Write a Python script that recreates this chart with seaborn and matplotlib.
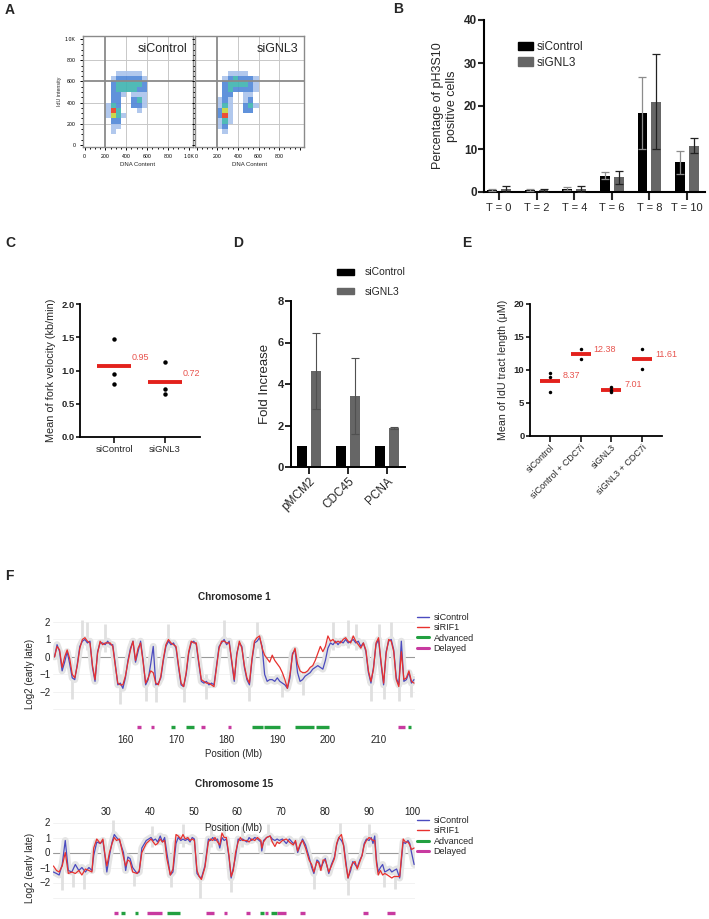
import numpy as np
import pandas as pd
import matplotlib
matplotlib.use("Agg")
import matplotlib.pyplot as plt
import seaborn as sns
from matplotlib.colors import ListedColormap, BoundaryNorm
from matplotlib.patches import Patch
from matplotlib.lines import Line2D

sns.set_theme(style="white")
plt.rcParams["font.family"] = ["Liberation Sans", "DejaVu Sans"]

# ------------------------------------------------------------------ data
# A: flow cytometry density (levels 0-5) on 50-unit bins
flow_x_edges = [150, 200, 250, 300, 350, 400, 450, 500, 550, 600, 650]
flow_y_edges = [100, 150, 200, 250, 300, 350, 400, 450, 500, 550, 600, 650, 700]
flow_sicontrol = [
    [0, 0, 1, 0, 0, 0, 0, 0, 0, 0],
    [0, 0, 1, 1, 0, 0, 0, 0, 0, 0],
    [0, 0, 2, 2, 0, 0, 0, 0, 0, 0],
    [0, 1, 4, 3, 1, 0, 0, 0, 0, 0],
    [0, 1, 5, 3, 0, 0, 0, 1, 0, 0],
    [0, 1, 3, 2, 0, 0, 2, 2, 1, 0],
    [0, 0, 2, 2, 0, 0, 2, 3, 1, 0],
    [0, 0, 2, 2, 1, 0, 1, 1, 1, 0],
    [0, 0, 2, 3, 3, 3, 3, 2, 2, 0],
    [0, 0, 2, 3, 3, 3, 3, 3, 2, 0],
    [0, 0, 1, 2, 2, 2, 2, 2, 1, 0],
    [0, 0, 0, 1, 1, 1, 1, 1, 0, 0],
]
flow_signl3 = [
    [0, 0, 1, 0, 0, 0, 0, 0, 0, 0],
    [0, 1, 2, 0, 0, 0, 0, 0, 0, 0],
    [0, 1, 3, 1, 0, 0, 0, 0, 0, 0],
    [0, 2, 5, 1, 0, 0, 0, 0, 0, 0],
    [0, 2, 4, 1, 0, 0, 2, 2, 0, 0],
    [0, 1, 3, 1, 0, 0, 2, 3, 1, 0],
    [0, 1, 2, 1, 0, 0, 1, 2, 0, 0],
    [0, 0, 2, 2, 0, 0, 1, 1, 0, 0],
    [0, 0, 2, 3, 2, 2, 2, 2, 1, 0],
    [0, 0, 2, 3, 3, 3, 3, 2, 1, 0],
    [0, 0, 1, 2, 3, 2, 2, 2, 1, 0],
    [0, 0, 0, 1, 1, 1, 1, 0, 0, 0],
]

# B
b_times = ["T = 0", "T = 2", "T = 4", "T = 6", "T = 8", "T = 10"]
b_ctrl = [0.5, 0.4, 0.8, 3.8, 18.4, 6.9]
b_ctrl_err = [0.3, 0.2, 0.4, 0.8, 8.4, 2.7]
b_gnl3 = [0.7, 0.4, 0.7, 3.4, 21.0, 10.8]
b_gnl3_err = [0.6, 0.3, 0.6, 1.6, 11.0, 1.8]

# C
c_groups = ["siControl", "siGNL3"]
c_ctrl = [1.47, 0.95, 0.80]
c_gnl3 = [1.13, 0.72, 0.65]
c_means = [1.07, 0.83]
c_labels = ["0.95", "0.72"]

# D
d_targets = ["pMCM2", "CDC45", "PCNA"]
d_ctrl = [1.0, 1.0, 1.0]
d_gnl3 = [4.62, 3.42, 1.88]
d_gnl3_err = [1.83, 1.82, 0.07]

# E
e_groups = ["siControl", "siControl + CDC7i", "siGNL3", "siGNL3 + CDC7i"]
e_ctrl = [9.6, 8.9, 6.6]
e_ctrl_cdc7i = [13.15, 11.61]
e_gnl3 = [7.35, 6.98, 6.70]
e_gnl3_cdc7i = [13.12, 10.10]
e_means = [8.37, 12.38, 7.01, 11.61]

# F: chromosome 1 (0.5 Mb grid from 146 Mb)
chr1_start, chr1_step = 146.0, 0.5
chr1_ctrl = [
    0.0, 0.7, 0.3, -0.8, -0.3, 0.3, -0.4, -1.2, -1.3, -0.4,
    0.6, 0.9, 1.0, 0.8, 0.9, -0.6, -1.4, 0.3, 0.8, 0.8,
    0.7, 0.9, 0.7, 0.7, -0.4, -1.6, -1.5, -1.8, -1.2, -0.2,
    0.5, 0.9, -0.3, 0.3, 0.9, -0.2, -1.6, -1.3, -0.4, 0.6,
    -1.6, -1.5, -1.2, -0.2, 0.6, 0.9, 0.7, 0.8, 0.5, -0.6,
    -1.6, -1.7, -1.0, 0.2, 0.8, 0.9, 0.7, -0.4, -1.4, -1.5,
    -1.4, -1.6, -1.5, -1.6, -0.5, 0.6, 0.8, 1.0, 0.7, 0.9,
    -0.3, -1.4, 0.2, 0.8, 0.6, -0.6, -1.3, -1.6, -0.2, 0.8,
    0.9, 1.1, 0.6, -1.0, -1.4, -1.3, -1.3, -1.4, -1.2, -1.4,
    -1.5, -1.6, -1.8, -1.2, 0.2, 0.4, -0.9, -1.4, -1.3, -1.1,
    -1.0, -0.9, -0.7, -0.6, -0.5, -0.6, -0.7, -0.2, 0.5, 0.8,
    0.7, 0.9, 0.7, 0.9, 0.8, 1.0, 0.8, 0.9, 1.0, 0.8,
    0.9, 0.6, 0.8, 0.3, -0.9, -1.5, -0.6, 0.7, 1.0, -0.4,
    -1.6, 0.3, 0.9, 1.0, 0.4, -1.2, -1.6, 0.9, -1.4, -1.3,
    -0.9, -1.5, -1.3]
chr1_rif1 = [
    0.0, 0.6, 0.4, -0.6, 0.0, 0.4, -0.1, -1.0, -1.2, -0.5,
    0.5, 1.0, 1.1, 0.9, 0.8, -0.5, -1.3, 0.2, 0.9, 0.7,
    0.8, 0.8, 0.8, 0.6, -0.5, -1.5, -1.6, -1.6, -1.1, -0.3,
    0.4, 0.9, -0.2, 0.5, 0.8, -0.3, -1.5, -1.2, -0.8, -0.9,
    -1.5, -1.6, -1.1, -0.1, 0.7, 1.0, 0.8, 0.7, 0.6, -0.5,
    -1.5, -1.7, -0.9, 0.3, 0.9, 0.8, 0.8, -0.3, -1.3, -1.4,
    -1.5, -1.5, -1.6, -1.7, -0.6, 0.5, 0.9, 0.9, 0.8, 0.8,
    -0.2, -1.3, 0.1, 0.9, 0.5, -0.5, -1.2, -1.5, -0.1, 0.9,
    1.1, 1.2, 0.5, 0.1, -0.1, -0.3, 0.1, -0.2, -0.4, -0.6,
    -0.9, -1.3, -1.8, -1.0, 0.1, 0.5, -0.4, -0.8, -0.9, -0.9,
    -0.8, -0.6, -0.5, -0.2, 0.2, 0.6, 0.3, 0.6, 1.2, 0.9,
    1.0, 0.8, 0.9, 0.8, 1.0, 1.1, 0.9, 0.8, 1.2, 0.9,
    0.7, 0.5, 0.8, 0.4, -0.8, -1.4, -0.7, 0.8, 1.1, -0.3,
    -1.5, 0.2, 1.0, 0.9, 0.3, -1.3, -1.7, 0.3, -1.3, -1.2,
    -0.8, -1.4, -1.5]
chr1_spike_pos = [149.5, 151.5, 152.5, 156.0, 159.0, 164.0, 166.0, 168.5, 171.5, 176.0, 179.5, 184.5,
                  186.0, 191.0, 195.0, 201.0, 204.0, 205.5, 208.5, 210.0, 211.0, 212.5, 214.0, 216.5]
chr1_spike_lo = [-2.4, 0.5, 0.4, 0.3, -2.7, -2.5, -2.6, 0.4, -2.6, -2.4, 0.5, -2.5,
                 0.5, -2.3, -2.2, 0.4, 0.5, 0.4, -2.5, 0.5, -2.4, 0.5, -2.5, -2.3]
chr1_spike_hi = [-0.8, 2.1, 2.0, 1.9, -1.0, -1.0, -1.0, 1.9, -1.1, -1.0, 2.1, -1.0,
                 2.0, -1.0, -0.8, 2.0, 2.1, 1.9, -1.0, 1.9, -1.0, 2.0, -1.0, -1.0]
chr1_adv_start = [169.0, 172.0, 185.1, 187.4, 193.5, 197.7, 215.9]
chr1_adv_end = [169.8, 173.6, 187.1, 190.5, 197.3, 200.2, 216.5]
chr1_del_start = [162.3, 165.0, 174.9, 180.3, 213.8]
chr1_del_end = [163.0, 165.7, 175.8, 180.8, 215.2]
chr1_ticks = [160, 170, 180, 190, 200, 210]

# F: chromosome 15
chr15_pos = [
    18.0, 18.7, 19.3, 20.0, 20.7, 21.4, 22.2, 23.0, 23.8, 24.5,
    25.3, 26.1, 26.8, 27.2, 27.9, 28.7, 29.3, 29.8, 30.2, 30.8,
    31.4, 31.9, 32.4, 33.1, 34.0, 34.5, 35.0, 35.5, 36.1, 37.1,
    37.6, 38.2, 39.2, 40.3, 40.8, 41.3, 41.8, 42.4, 42.9, 43.4,
    43.9, 44.7, 45.3, 46.0, 46.5, 47.1, 47.6, 48.1, 48.7, 49.2,
    49.7, 50.2, 50.8, 51.3, 51.8, 52.6, 53.4, 53.9, 54.4, 54.9,
    55.5, 56.0, 56.5, 57.0, 57.5, 58.1, 58.6, 59.1, 59.6, 60.2,
    60.7, 61.2, 62.2, 62.7, 63.3, 64.0, 64.6, 65.4, 65.6, 66.0,
    66.7, 67.5, 68.0, 68.6, 69.1, 69.6, 70.3, 71.2, 71.9, 72.8,
    73.3, 73.8, 74.4, 74.9, 75.6, 76.4, 77.0, 77.5, 78.2, 78.6,
    79.1, 79.6, 80.1, 80.9, 81.5, 82.2, 82.7, 83.2, 83.8, 84.3,
    84.8, 85.3, 85.9, 86.4, 86.9, 87.4, 88.0, 88.5, 89.0, 89.5,
    90.1, 90.6, 91.0, 91.4, 91.8, 92.2, 92.7, 93.2, 93.7, 94.3,
    94.8, 95.3, 95.8, 96.4, 97.1, 97.5, 97.9, 98.4, 99.0, 99.4,
    99.8, 100.4]
chr15_ctrl = [
    -1.3, -1.4, -1.5, -0.8, 0.8, -1.2, -1.3, -0.8, -1.2, -1.0,
    -1.3, -1.0, -1.2, -0.2, 0.7, 0.6, 0.8, -0.3, -1.3, -0.2,
    0.7, 1.2, 1.0, 0.8, 0.0, -1.2, -0.3, -0.4, -1.0, -1.4,
    -1.3, 0.3, 0.8, 1.0, 0.8, 0.9, 0.7, 1.1, 0.7, 1.0,
    0.0, -1.5, -1.3, 0.6, 1.0, 0.8, 0.9, 0.8, 0.9, 0.7,
    1.0, 0.9, -1.4, -1.6, -1.7, -0.9, 0.9, 0.8, 1.0, 0.8,
    0.9, 0.3, 1.0, 0.8, 0.9, -0.3, -1.7, -1.0, -0.3, 0.9,
    0.8, 0.9, 0.7, 1.0, 0.8, 1.0, 0.9, 0.7, 0.1, 0.8,
    1.0, 1.1, 0.9, 0.8, 0.9, 0.8, 0.9, 0.6, 0.9, 0.6,
    0.7, 0.0, 0.5, 0.9, 0.5, -0.3, -1.0, -1.4, -0.5, -0.6,
    -1.0, -0.7, -0.4, -1.4, -0.8, -0.3, 0.5, 1.0, 0.8, 0.5,
    -0.6, -1.7, -1.2, -0.6, -0.8, -1.0, -0.5, -0.2, 0.6, 0.9,
    0.8, 1.0, 0.6, 1.1, -0.5, -1.3, -1.0, -0.8, -1.3, -1.2,
    -1.1, -1.3, -1.2, -1.1, -1.7, -0.5, 0.7, 0.6, 0.8, 0.6,
    0.0, -0.8]
chr15_rif1 = [
    -0.9, -1.2, -1.3, -0.9, 0.0, -1.4, -1.3, -1.4, -1.2, -1.5,
    -1.1, -1.2, -1.3, 0.3, 0.9, 0.6, 0.9, -0.2, -0.9, 0.0,
    0.6, 1.0, 0.8, 0.9, -0.3, -0.9, -0.5, -0.6, -1.3, -1.4,
    -1.2, 0.0, 0.6, 0.9, 0.7, 0.5, 0.6, 0.9, 0.7, 0.8,
    -0.4, -1.5, -1.1, 1.2, 1.1, 0.9, 1.2, 0.9, 1.0, 0.8,
    0.9, 0.8, -1.2, -1.6, -1.8, -1.0, 0.7, 0.9, 0.8, 1.0,
    0.7, 0.5, 1.3, 1.0, 1.0, -0.2, -1.6, -1.2, 0.0, 0.7,
    1.0, 0.8, 0.8, 0.7, 0.9, 0.8, 1.0, 0.8, 0.3, 0.7,
    1.0, 1.1, 0.7, 0.4, 0.7, 0.6, 0.8, 0.9, 0.7, 0.5,
    0.8, 0.1, 0.6, 0.8, 0.3, -0.5, -0.8, -1.3, -0.6, -0.7,
    -1.2, -0.5, -0.5, -1.3, -0.9, -0.4, 0.6, 1.0, 1.2, 0.4,
    -0.8, -1.7, -1.0, -0.7, -0.6, -1.1, -0.6, -0.2, 0.5, 0.8,
    1.0, 0.9, 0.8, 0.8, -0.7, -1.5, -1.2, -1.5, -1.4, -1.5,
    -1.6, -1.7, -1.6, -1.6, -1.6, -0.3, 0.9, 0.7, 0.7, 0.5,
    0.2, 0.3]
chr15_spike_pos = [20.0, 22.5, 25.0, 31.6, 36.5, 40.5, 44.9, 47.5, 51.5, 54.0, 57.0, 58.6,
                   61.0, 67.0, 77.5, 83.5, 85.3, 90.0, 93.5, 96.0]
chr15_spike_lo = [-2.5, -2.3, -2.4, 0.5, -2.2, 0.4, -2.3, 0.4, -3.0, 0.4, 0.5, -2.6,
                  0.4, 0.5, -2.4, 0.5, -2.8, 0.4, -2.3, -2.4]
chr15_spike_hi = [-0.8, -0.9, -0.9, 2.2, -0.9, 1.8, -1.0, 1.9, -1.2, 2.0, 1.9, -1.1,
                  1.8, 1.9, -0.9, 2.0, -1.1, 1.9, -1.0, -1.0]
chr15_adv_start = [33.5, 36.6, 43.9, 65.1, 67.7]
chr15_adv_end = [34.3, 37.3, 46.9, 66.0, 69.1]
chr15_del_start = [31.9, 39.4, 52.9, 57.0, 62.0, 66.3, 69.1, 74.3, 88.8, 94.3]
chr15_del_end = [32.7, 42.9, 54.7, 57.6, 62.8, 67.0, 71.2, 75.4, 89.8, 96.0]
chr15_ticks = [30, 40, 50, 60, 70, 80, 90, 100]

# ------------------------------------------------------------------ figure
W, H = 709, 919
fig = plt.figure(figsize=(W / 100, H / 100), dpi=100)


def add_ax(l, t, r, b):
    return fig.add_axes([l / W, 1 - b / H, (r - l) / W, (b - t) / H])


def fx(x):
    return x / W


def fy(y):
    return 1 - y / H


for lab, x, y in [("A", 5, 10), ("B", 393, 9), ("C", 5, 243), ("D", 233, 243), ("E", 462, 243), ("F", 5, 576)]:
    fig.text(fx(x), fy(y), lab, fontsize=10, fontweight="bold", va="center", ha="left")

RED = "#e3211c"
RED_TXT = "#e8544e"
GRAY_BAR = "#666666"

# ---------------- A
cmap_flow = ListedColormap(["#a9c2ec", "#4f86d8", "#3db3b0", "#c2d43a", "#ec3b1f"])
norm_flow = BoundaryNorm([0.5, 1.5, 2.5, 3.5, 4.5, 5.5], cmap_flow.N)
for (l, r), grid, name, first in [((83, 193), flow_sicontrol, "siControl", True),
                                   ((195, 304), flow_signl3, "siGNL3", False)]:
    ax = add_ax(l, 36, r, 147)
    Z = np.ma.masked_equal(np.array(grid), 0)
    ax.pcolormesh(flow_x_edges, flow_y_edges, Z, cmap=cmap_flow, norm=norm_flow, alpha=0.9, zorder=1)
    ax.set_xlim(-15, 1040)
    ax.set_ylim(-20, 1030)
    for v in (400, 600, 800):
        ax.axvline(v, color="#c8c8c8", lw=0.7, zorder=0)
    for v in (200, 400, 800):
        ax.axhline(v, color="#c8c8c8", lw=0.7, zorder=0)
    ax.axvline(200, color="#8a8a8a", lw=1.3, zorder=2)
    ax.axhline(600, color="#8a8a8a", lw=1.3, zorder=2)
    for s in ax.spines.values():
        s.set_color("#8a8a8a")
        s.set_linewidth(1.0)
    ax.set_xticks([0, 200, 400, 600, 800, 1000])
    ax.set_xticklabels(["0", "200", "400", "600", "800", "1.0K" if first else ""])
    ax.set_xticks(np.arange(0, 1001, 50), minor=True)
    ax.set_yticks([0, 200, 400, 600, 800, 1000])
    ax.set_yticks(np.arange(0, 1001, 50), minor=True)
    if first:
        ax.set_yticklabels(["0", "200", "400", "600", "800", "1.0K"])
        ax.set_ylabel("IdU intensity", fontsize=3.8, labelpad=2)
    else:
        ax.set_yticklabels([])
    ax.tick_params(which="both", bottom=True, left=True, direction="out", colors="black",
                   labelsize=3.8, width=0.7, pad=3)
    ax.tick_params(which="major", length=2.2)
    ax.tick_params(which="minor", length=1.2)
    ax.set_xlabel("DNA Content", fontsize=4.3, labelpad=2)
    ax.text(0.95, 0.88, name, transform=ax.transAxes, ha="right", va="center", fontsize=9)

# ---------------- B
ax = add_ax(484, 20, 705, 192)
dfb = pd.DataFrame({"time": b_times * 2, "pct": b_ctrl + b_gnl3,
                    "cond": ["siControl"] * len(b_times) + ["siGNL3"] * len(b_times)})
sns.barplot(data=dfb, x="time", y="pct", hue="cond", palette=["#000000", GRAY_BAR], width=0.74, gap=0.3,
            errorbar=None, saturation=1, legend=False, linewidth=0, ax=ax)
for cont, errs, ec in zip(ax.containers, [b_ctrl_err, b_gnl3_err], ["#8c8c8c", "#222222"]):
    xs = [p.get_x() + p.get_width() / 2 for p in cont]
    hs = [p.get_height() for p in cont]
    ax.errorbar(xs, hs, yerr=errs, fmt="none", ecolor=ec, elinewidth=0.9, capsize=3, capthick=0.9, zorder=3)
ax.set_xlim(-0.4, 5.48)
ax.set_ylim(0, 40)
ax.set_yticks([0, 10, 20, 30, 40])
sns.despine(ax=ax)
for s in ("left", "bottom"):
    ax.spines[s].set_linewidth(1.5)
    ax.spines[s].set_color("black")
ax.tick_params(axis="y", left=True, length=4, width=1.5, labelsize=8.5, pad=1)
ax.tick_params(axis="x", bottom=True, length=6, width=1.5, labelsize=8, pad=2)
for t in ax.get_yticklabels():
    t.set_fontweight("bold")
ax.set_xlabel("")
ax.set_ylabel("Percentage of pH3S10\npositive cells", fontsize=9, labelpad=4)
ax.legend(handles=[Patch(color="#000000"), Patch(color=GRAY_BAR)], labels=["siControl", "siGNL3"],
          loc="center left", bbox_to_anchor=(fx(517.7), fy(54.9)), bbox_transform=fig.transFigure,
          frameon=False, fontsize=8.5, handlelength=1.32, handleheight=0.76, labelspacing=0.3,
          handletextpad=0.3, borderpad=0, borderaxespad=0)

# ---------------- C
ax = add_ax(80, 304, 200, 437)
dfc = pd.DataFrame({"group": [c_groups[0]] * len(c_ctrl) + [c_groups[1]] * len(c_gnl3),
                    "v": c_ctrl + c_gnl3})
sns.stripplot(data=dfc, x="group", y="v", jitter=False, color="black", size=3.2, ax=ax, zorder=3)
for i, (m, lab) in enumerate(zip(c_means, c_labels)):
    ax.hlines(m, i - 0.33, i + 0.33, color=RED, lw=2.8, zorder=2)
    ax.text(i + 0.35, m + 0.13, lab, color=RED_TXT, fontsize=6.5, va="center", ha="left")
ax.set_xlim(-0.67, 1.69)
ax.set_ylim(0, 2.0)
ax.set_yticks([0.0, 0.5, 1.0, 1.5, 2.0])
ax.set_yticklabels(["0.0", "0.5", "1.0", "1.5", "2.0"])
sns.despine(ax=ax)
for s in ("left", "bottom"):
    ax.spines[s].set_linewidth(1.3)
    ax.spines[s].set_color("black")
ax.tick_params(axis="y", left=True, length=3, width=1.3, labelsize=6.8, pad=1)
ax.tick_params(axis="x", bottom=True, length=4, width=1.3, labelsize=6.8, pad=2)
for t in ax.get_yticklabels():
    t.set_fontweight("bold")
ax.set_xlabel("")
ax.set_ylabel("Mean of fork velocity (kb/min)", fontsize=7.8, labelpad=4)

# ---------------- D
ax = add_ax(291, 301, 405, 467)
dfd = pd.DataFrame({"target": d_targets * 2, "fold": d_ctrl + d_gnl3,
                    "cond": ["siControl"] * len(d_targets) + ["siGNL3"] * len(d_targets)})
sns.barplot(data=dfd, x="target", y="fold", hue="cond", palette=["#000000", GRAY_BAR], width=0.74, gap=0.3,
            errorbar=None, saturation=1, legend=False, linewidth=0, ax=ax)
cont = ax.containers[1]
xs = [p.get_x() + p.get_width() / 2 for p in cont]
hs = [p.get_height() for p in cont]
ax.errorbar(xs, hs, yerr=d_gnl3_err, fmt="none", ecolor="#505050", elinewidth=0.8, capsize=3, capthick=0.8,
            zorder=3)
ax.set_xlim(-0.46, 2.46)
ax.set_ylim(0, 8)
ax.set_yticks([0, 2, 4, 6, 8])
sns.despine(ax=ax)
for s in ("left", "bottom"):
    ax.spines[s].set_linewidth(1.4)
    ax.spines[s].set_color("black")
ax.tick_params(axis="y", left=True, length=4, width=1.4, labelsize=8, pad=1)
ax.tick_params(axis="x", bottom=True, length=5, width=1.4, labelsize=8.5, pad=1)
for t in ax.get_yticklabels():
    t.set_fontweight("bold")
plt.setp(ax.get_xticklabels(), rotation=45, ha="right", rotation_mode="anchor")
ax.set_xlabel("")
ax.set_ylabel("Fold Increase", fontsize=9.5, labelpad=5)
ax.legend(handles=[Patch(color="#000000"), Patch(color=GRAY_BAR)], labels=["siControl", "siGNL3"],
          loc="center left", bbox_to_anchor=(fx(336.7), fy(282)), bbox_transform=fig.transFigure,
          frameon=False, fontsize=7.5, handlelength=1.7, handleheight=0.55, labelspacing=0.87,
          handletextpad=0.96, borderpad=0, borderaxespad=0)

# ---------------- E
ax = add_ax(530, 304, 662, 436)
e_series = [e_ctrl, e_ctrl_cdc7i, e_gnl3, e_gnl3_cdc7i]
dfe = pd.DataFrame({"group": sum([[g] * len(s) for g, s in zip(e_groups, e_series)], []),
                    "v": sum(e_series, [])})
sns.stripplot(data=dfe, x="group", y="v", order=e_groups, jitter=False, color="black", size=2.5, ax=ax,
              zorder=3)
for i, m in enumerate(e_means):
    ax.hlines(m, i - 0.33, i + 0.33, color=RED, lw=2.8, zorder=2)
    ax.text(i + 0.42, m + 0.8, f"{m:.2f}", color=RED_TXT, fontsize=6.5, va="center", ha="left")
ax.set_xlim(-0.65, 3.65)
ax.set_ylim(0, 20)
ax.set_yticks([0, 5, 10, 15, 20])
sns.despine(ax=ax)
for s in ("left", "bottom"):
    ax.spines[s].set_linewidth(1.3)
    ax.spines[s].set_color("black")
ax.tick_params(axis="y", left=True, length=3, width=1.3, labelsize=6.8, pad=1)
ax.tick_params(axis="x", bottom=True, length=4, width=1.3, labelsize=6.5, pad=1)
for t in ax.get_yticklabels():
    t.set_fontweight("bold")
plt.setp(ax.get_xticklabels(), rotation=45, ha="right", rotation_mode="anchor")
ax.set_xlabel("")
ax.set_ylabel("Mean of IdU tract length (\u03bcM)", fontsize=7.7, labelpad=4)

# ---------------- F
BLUE_L = "#4b4bbf"
RED_L = "#e8312e"
GREEN = "#22a040"
MAGENTA = "#c83aa0"
UMINUS = "\u2212"


def chrom_panel(ax, pos, ctrl, rif1, sp_pos, sp_lo, sp_hi, adv_s, adv_e, del_s, del_e, xlim, ylim):
    for g in (2, 1, -1, -2, -3):
        ax.axhline(g, color="#f0f0f0", lw=0.6, zorder=0)
    ax.axhline(0, color="#9a9a9a", lw=0.8, zorder=1)
    ax.vlines(sp_pos, sp_lo, sp_hi, color="#e0e0e0", lw=2.0, zorder=1)
    sns.lineplot(x=pos, y=ctrl, color="#e4e4e4", lw=5, ax=ax, estimator=None, sort=False, zorder=1)
    sns.lineplot(x=pos, y=ctrl, color=BLUE_L, lw=0.9, ax=ax, estimator=None, sort=False, zorder=3)
    sns.lineplot(x=pos, y=rif1, color=RED_L, lw=0.9, ax=ax, estimator=None, sort=False, zorder=4)
    ax.hlines([-4.0] * len(adv_s), adv_s, adv_e, color=GREEN, lw=2.4, zorder=3)
    ax.hlines([-4.0] * len(del_s), del_s, del_e, color=MAGENTA, lw=2.4, zorder=3)
    ax.set_xlim(*xlim)
    ax.set_ylim(*ylim)
    for s in ax.spines.values():
        s.set_visible(False)
    ax.set_yticks([-2, -1, 0, 1, 2])
    ax.set_yticklabels([UMINUS + "2", UMINUS + "1", "0", "1", "2"])
    ax.tick_params(axis="both", length=0, labelsize=7, colors="#222222", pad=2)
    ax.set_ylabel("Log2 (early late)", fontsize=7, labelpad=3)
    ax.set_xlabel("")
    ax.legend(handles=[Line2D([], [], color=BLUE_L, lw=1), Line2D([], [], color=RED_L, lw=1),
                       Line2D([], [], color=GREEN, lw=2.2), Line2D([], [], color=MAGENTA, lw=2.2)],
              labels=["siControl", "siRIF1", "Advanced", "Delayed"], loc="upper left",
              bbox_to_anchor=(1.005, 1.02), frameon=False, fontsize=6.5, handlelength=1.35,
              labelspacing=0.16, handletextpad=0.5, borderpad=0, borderaxespad=0)


chr1_pos = list(chr1_start + chr1_step * np.arange(len(chr1_ctrl)))

ax = add_ax(53, 615, 415, 732)
chrom_panel(ax, chr1_pos, chr1_ctrl, chr1_rif1, chr1_spike_pos, chr1_spike_lo, chr1_spike_hi,
            chr1_adv_start, chr1_adv_end, chr1_del_start, chr1_del_end, (145.7, 217.2), (-4.3, 2.4))
ax.set_xticks(chr1_ticks)
ax.set_xticklabels([str(t) for t in chr1_ticks])
ax.set_xlabel("Position (Mb)", fontsize=7, labelpad=3)
fig.text(fx(234), fy(597), "Chromosome 1", fontsize=7.2, fontweight="bold", ha="center", va="center")

ax = add_ax(53, 818, 415, 917)
chrom_panel(ax, chr15_pos, chr15_ctrl, chr15_rif1, chr15_spike_pos, chr15_spike_lo, chr15_spike_hi,
            chr15_adv_start, chr15_adv_end, chr15_del_start, chr15_del_end, (17.9, 100.6), (-4.3, 2.3))
ax.xaxis.tick_top()
ax.set_xticks(chr15_ticks)
ax.set_xticklabels([str(t) for t in chr15_ticks])
ax.tick_params(axis="x", pad=1)
ax.text(0.5, 0.9, "Position (Mb)", transform=ax.transAxes, ha="center", va="center", fontsize=7, zorder=5)
fig.text(fx(234), fy(784), "Chromosome 15", fontsize=7.2, fontweight="bold", ha="center", va="center")

fig.savefig("out.png", dpi=100, facecolor="white")
